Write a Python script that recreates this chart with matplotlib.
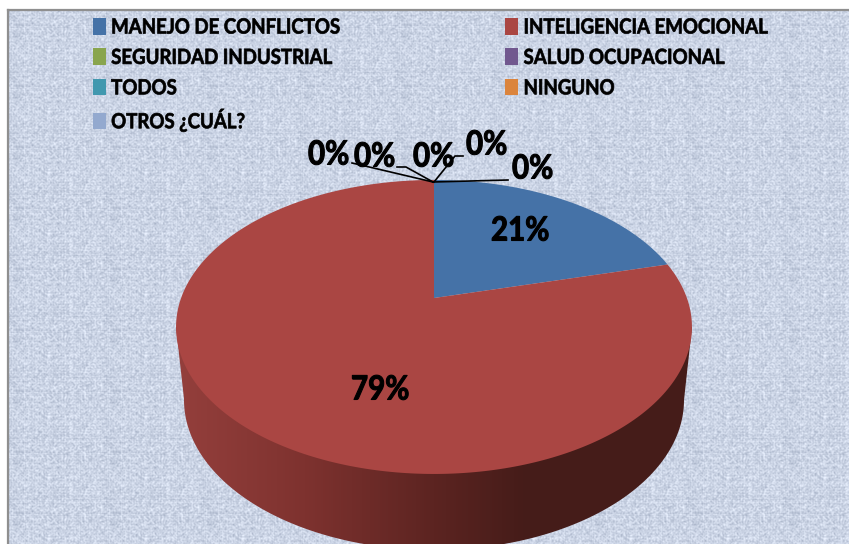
import numpy as np
import matplotlib.pyplot as plt
from matplotlib.colors import LinearSegmentedColormap
from matplotlib.patches import Patch, Polygon
from matplotlib.transforms import Affine2D
import matplotlib.patheffects as pe

categorias = ['MANEJO DE CONFLICTOS', 'INTELIGENCIA EMOCIONAL', 'SEGURIDAD INDUSTRIAL',
              'SALUD OCUPACIONAL', 'TODOS', 'NINGUNO', 'OTROS ¿CUÁL?']
valores = [21, 79, 0, 0, 0, 0, 0]
colores = ['#4572a7', '#aa4643', '#89a54e', '#71588f', '#4198af', '#db843d', '#93a9cf']

# where the labels sit (left edge, middle), pixels of the picture
pos_etiquetas = [(491, 231), (351, 390), (308, 155), (354, 157), (413, 157), (466, 145), (512, 169)]
lineas = [[(433, 182), (365, 166), (352, 163)],
          [(433, 182), (406, 167), (397, 167)],
          [(434, 182), (455, 156), (463, 156)],
          [(433, 182), (508, 180)]]

plt.rcParams['font.family'] = ['Lato', 'DejaVu Sans']
W, H = 849, 544
fig = plt.figure(figsize=(W / 100, H / 100), dpi=100, facecolor='white')
ax = fig.add_axes([0, 0, 1, 1])
ax.axis('off')

# reference font is narrower and heavier than Lato Bold
class Angosta(pe.AbstractPathEffect):
    def __init__(self, sx, lw):
        super().__init__()
        self.sx, self.lw = sx, lw
    def draw_path(self, renderer, gc, tpath, affine, rgbFace):
        g = renderer.new_gc()
        g.copy_properties(gc)
        g.set_linewidth(self.lw)
        g.set_foreground('black')
        renderer.draw_path(g, tpath, Affine2D().scale(self.sx, 1) + affine, rgbFace)
        g.restore()

# canvas texture of the background (deterministic, not data)
yy, xx = np.mgrid[0:H - 11, 0:W - 9]
def ruido(a, b, sx, sy):
    v = np.sin((a % sx) * 12.9898 + (b % sy) * 78.233) * 43758.5453
    return v - np.floor(v) - 0.5
r = ruido(xx, yy, 97, 61)
r = (r + np.roll(r, 1, 0) + np.roll(r, 1, 1) + np.roll(np.roll(r, 1, 0), 1, 1)) / 4
fila = ruido(yy, yy, 61, 61) * 0.18
col = ruido(xx, xx, 97, 97) * 0.18
t = r * 1.3 + fila + col
base = np.array([204, 213, 230]) / 255
tex = np.clip(base[None, None, :] + t[:, :, None] * np.array([0.19, 0.18, 0.16]), 0, 1)
ax.imshow(tex, extent=(9, W, H, 11), aspect='auto', interpolation='bilinear', zorder=0)
ax.plot([8, 8], [9.5, H], color='#8f8f8f', lw=1.6, zorder=1)
ax.plot([8, W], [9.5, 9.5], color='#8f8f8f', lw=1.6, zorder=1)

# top of the pie in perspective
cx, cy = 434, 298
k, a, b = 0.197, 141.3, 252.9
def proyecta(ang):
    u, v = np.sin(ang), np.cos(ang)
    return cx + b * u / (1 + k * v), cy - a * v / (1 + k * v)

# side wall
ang = np.linspace(0, 2 * np.pi, 400)
xb = 434 + 250 * np.cos(ang[:201])
yb = 400 + 150 * np.sin(ang[:201])
pared = np.column_stack([np.r_[692, xb, 176], np.r_[327, yb, 327]])
cmap = LinearSegmentedColormap.from_list('pared', [(0, '#943f3c'), (0.25, '#7e322f'), (0.5, '#5c2421'),
                                                   (0.68, '#451c19'), (1, '#451c19')])
grad = np.linspace(0, 1, 516)[None, :]
im = ax.imshow(grad, extent=(176, 692, 560, 320), aspect='auto', cmap=cmap, vmin=0, vmax=1, zorder=2)
im.set_clip_path(Polygon(pared, transform=ax.transData))

# slices
fin = np.cumsum(valores) / np.sum(valores) * 2 * np.pi
ini = np.r_[0, fin[:-1]]
for a0, a1, c in zip(ini, fin, colores):
    if a1 > a0:
        th = np.linspace(a0, a1, 300)
        x, y = proyecta(th)
        ax.fill(np.r_[cx, x], np.r_[cy, y], color=c, lw=0, zorder=3)

for ln in lineas:
    ax.plot(*zip(*ln), color='black', lw=1.2, zorder=4)
for v, (px, py) in zip(valores, pos_etiquetas):
    ax.text(px, py, f'{v}%', fontsize=24, fontweight='bold', color='black', ha='left', va='center',
            zorder=5, path_effects=[Angosta(0.885, 0.8)])

# legend, filled column by column
orden = [0, 2, 4, 6, 1, 3, 5]
handles = [Patch(color=colores[i], lw=0) for i in orden]
ley = ax.legend(handles, [categorias[i] for i in orden], ncol=2, loc='upper left', bbox_to_anchor=(93, 17.5),
                bbox_transform=ax.transData, frameon=False, borderpad=0, borderaxespad=0,
                prop={'family': 'Lato', 'weight': 'bold', 'size': 15},
                handlelength=0.62, handleheight=0.85, handletextpad=0.25, labelspacing=0.5, columnspacing=6.68,
                labelcolor='black')
for tx in ley.get_texts():
    tx.set_path_effects([Angosta(0.895, 0.5)])

ax.set_xlim(0, W)
ax.set_ylim(H, 0)
fig.savefig('out.png', dpi=100)
